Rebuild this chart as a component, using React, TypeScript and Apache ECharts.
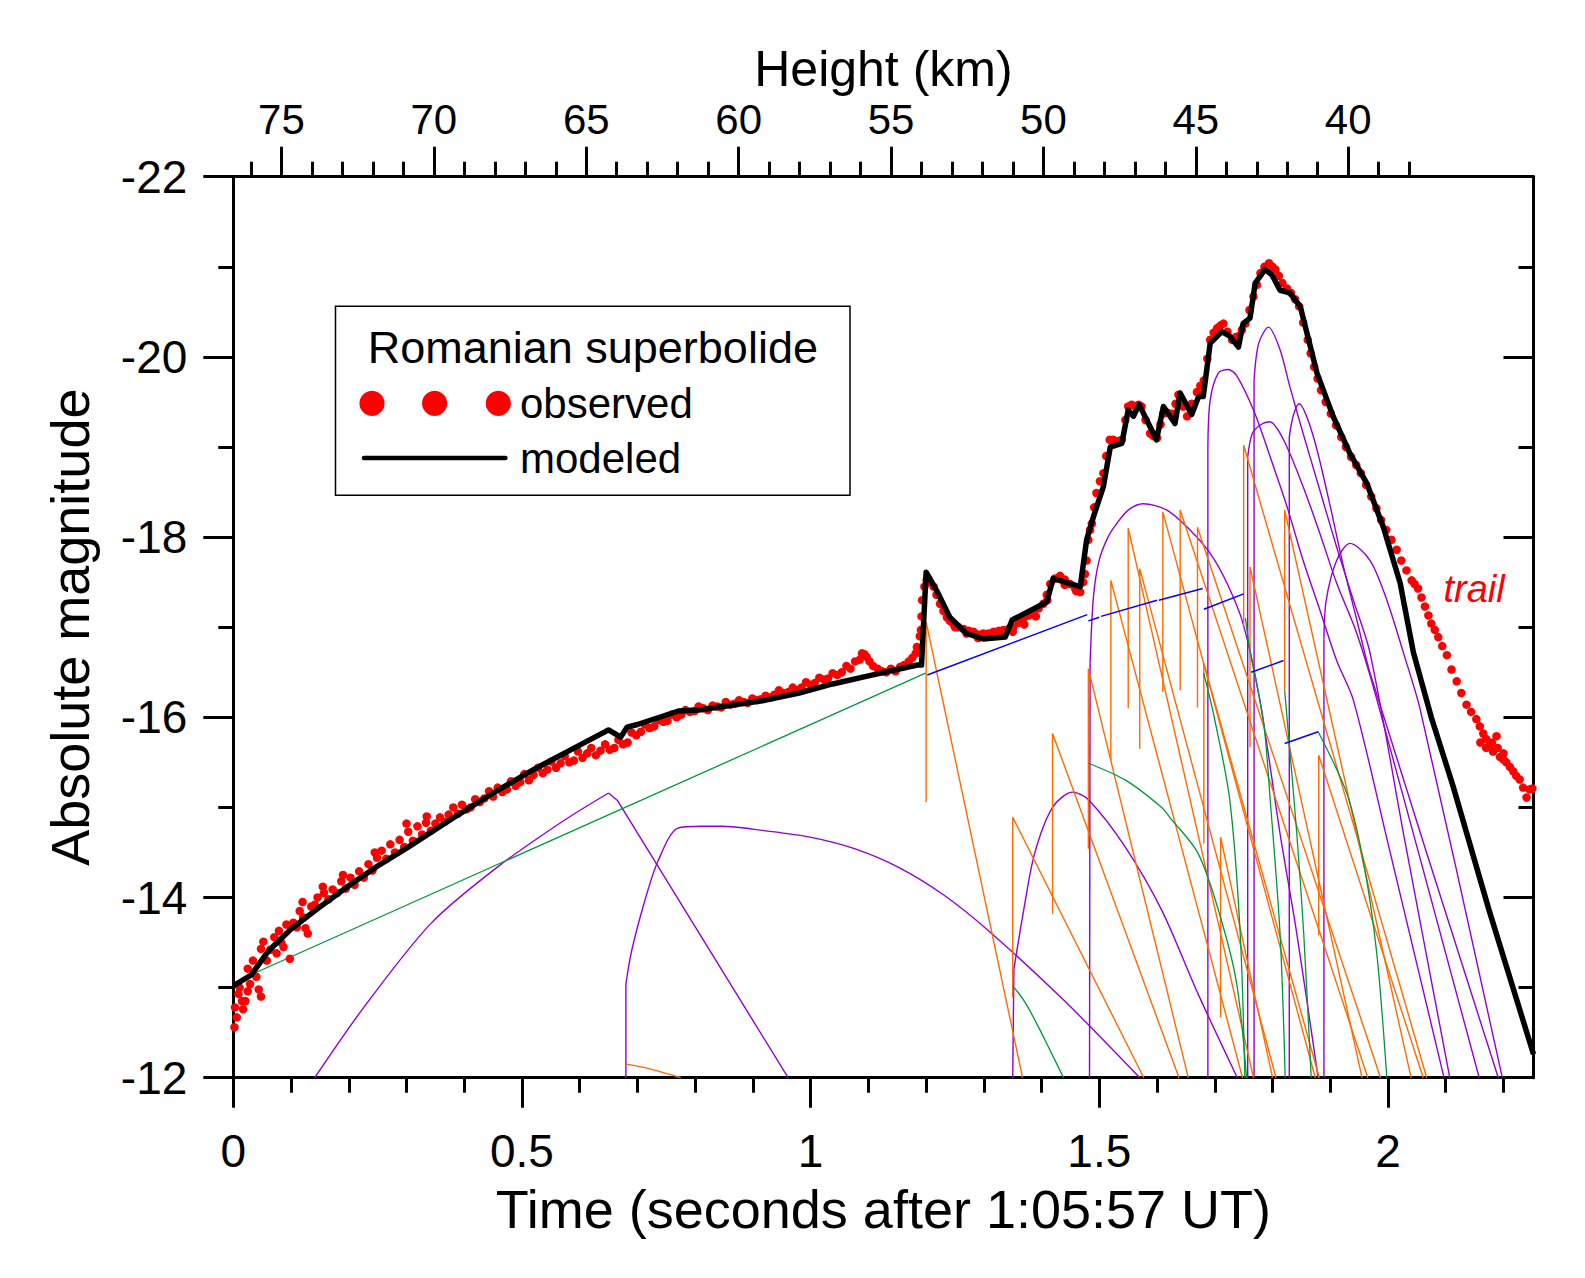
import React, { useEffect, useRef } from "react";
import * as echarts from "echarts";

const FONT = '"Liberation Sans", Arial, Helvetica, sans-serif';

// Bottom axis: time in seconds after 1:05:57 UT
const timeMajorTicks = [0, 0.5, 1, 1.5, 2];
const timeMinorTicks = [0.1, 0.2, 0.3, 0.4, 0.6, 0.7, 0.8, 0.9, 1.1, 1.2, 1.3, 1.4, 1.6, 1.7, 1.8, 1.9, 2.1, 2.2];
// Top axis: height in km
const heightMajorTicks = [75, 70, 65, 60, 55, 50, 45, 40];
const heightMinorTicks = [76, 74, 73, 72, 71, 69, 68, 67, 66, 64, 63, 62, 61, 59, 58, 57, 56, 54, 53, 52, 51, 49, 48, 47, 46, 44, 43, 42, 41, 39, 38];

// Observed light curve [time s, absolute magnitude]
const observed: [number, number][] = [
  [0.002, -12.56], [0.003, -12.78], [0.006, -12.67], [0.009, -12.93], [0.011, -13.0], [0.015, -12.85], [0.017, -12.76],
  [0.021, -12.85], [0.025, -12.96], [0.025, -13.21], [0.029, -13.04], [0.034, -13.3], [0.04, -13.12], [0.044, -12.98],
  [0.048, -12.9], [0.048, -13.43], [0.052, -13.51], [0.058, -13.3], [0.064, -13.42], [0.071, -13.56], [0.075, -13.38],
  [0.079, -13.63], [0.083, -13.5], [0.087, -13.45], [0.092, -13.7], [0.098, -13.32], [0.104, -13.72], [0.11, -13.67],
  [0.115, -13.85], [0.12, -13.95], [0.121, -13.78], [0.125, -13.66], [0.129, -13.6], [0.135, -13.9], [0.141, -13.92],
  [0.146, -14.0], [0.155, -14.12], [0.19, -14.25], [0.245, -14.5], [0.3, -14.82], [0.335, -14.9],
  [0.157, -14.05], [0.172, -14.09], [0.187, -14.18], [0.203, -14.22], [0.218, -14.29], [0.234, -14.37], [0.249, -14.44],
  [0.257, -14.52], [0.272, -14.59], [0.288, -14.64], [0.303, -14.73], [0.319, -14.79], [0.334, -14.83], [0.358, -14.89],
  [0.381, -15.0], [0.396, -15.03], [0.419, -15.09], [0.443, -15.18], [0.458, -15.22], [0.481, -15.29], [0.504, -15.37],
  [0.528, -15.44], [0.551, -15.51], [0.574, -15.57], [0.597, -15.62], [0.62, -15.66], [0.644, -15.7], [0.667, -15.75],
  [0.69, -15.83], [0.713, -15.92], [0.737, -15.97], [0.76, -16.03], [0.783, -16.08], [0.806, -16.12], [0.83, -16.13],
  [0.853, -16.17], [0.876, -16.19], [0.899, -16.21], [0.922, -16.24], [0.945, -16.3], [0.969, -16.33], [0.992, -16.39],
  [1.015, -16.44], [1.038, -16.49], [1.062, -16.57], [1.077, -16.62], [1.089, -16.71], [1.097, -16.67], [1.108, -16.57],
  [1.124, -16.51], [1.139, -16.54], [1.155, -16.56], [1.17, -16.62], [1.182, -16.71],
  [0.165, -13.98], [0.18, -14.05], [0.195, -14.1], [0.21, -14.14], [0.226, -14.22], [0.241, -14.3], [0.265, -14.43],
  [0.28, -14.5], [0.296, -14.56], [0.311, -14.63], [0.327, -14.7], [0.342, -14.74], [0.35, -14.82], [0.366, -14.84],
  [0.373, -14.92], [0.389, -14.93], [0.404, -14.98], [0.411, -15.0], [0.427, -15.06], [0.435, -15.1], [0.45, -15.12],
  [0.466, -15.17], [0.474, -15.2], [0.489, -15.24], [0.497, -15.28], [0.512, -15.3], [0.52, -15.36], [0.536, -15.38],
  [0.544, -15.42], [0.559, -15.44], [0.567, -15.49], [0.582, -15.5], [0.59, -15.52], [0.605, -15.55], [0.613, -15.6],
  [0.628, -15.58], [0.636, -15.63], [0.652, -15.64], [0.66, -15.66], [0.675, -15.7], [0.683, -15.72], [0.698, -15.8],
  [0.706, -15.84], [0.721, -15.88], [0.729, -15.9], [0.745, -15.95], [0.752, -15.96], [0.768, -16.0], [0.776, -16.03],
  [0.791, -16.06], [0.799, -16.07], [0.814, -16.1], [0.822, -16.08], [0.838, -16.12], [0.845, -16.11], [0.861, -16.14],
  [0.868, -16.15], [0.884, -16.17], [0.891, -16.16], [0.907, -16.19], [0.914, -16.2], [0.93, -16.22], [0.937, -16.25],
  [0.953, -16.27], [0.961, -16.28], [0.976, -16.3], [0.984, -16.33], [1.0, -16.36], [1.007, -16.38], [1.023, -16.42],
  [1.03, -16.43], [1.046, -16.47], [1.054, -16.5], [1.069, -16.54], [1.085, -16.64], [1.093, -16.7], [1.102, -16.62],
  [1.116, -16.54], [1.131, -16.5], [1.147, -16.51], [1.162, -16.58], [1.176, -16.66],
  [1.184, -16.78], [1.189, -16.9], [1.191, -16.97], [1.192, -17.12], [1.193, -17.3], [1.197, -17.45], [1.201, -17.52],
  [1.206, -17.5], [1.213, -17.45], [1.218, -17.36], [1.224, -17.26], [1.23, -17.18], [1.236, -17.11], [1.241, -17.07],
  [1.247, -17.04], [1.256, -17.0], [1.265, -16.98], [1.274, -16.96], [1.282, -16.95], [1.29, -16.92], [1.299, -16.93],
  [1.308, -16.93], [1.317, -16.95], [1.326, -16.96], [1.334, -16.97], [1.343, -16.98], [1.351, -17.0], [1.36, -17.05],
  [1.369, -17.1], [1.378, -17.13], [1.386, -17.17], [1.395, -17.21], [1.403, -17.26], [1.409, -17.36], [1.415, -17.48],
  [1.423, -17.54], [1.432, -17.57], [1.44, -17.53], [1.449, -17.48], [1.458, -17.43], [1.467, -17.39], [1.472, -17.5],
  [1.25, -17.0], [1.27, -16.93], [1.29, -16.88], [1.31, -16.9], [1.33, -16.92], [1.35, -16.95], [1.37, -17.03],
  [1.39, -17.12], [1.41, -17.3], [1.44, -17.47], [1.46, -17.4],
  [1.475, -17.59], [1.478, -17.74], [1.481, -17.97], [1.484, -18.08], [1.487, -18.15], [1.491, -18.33], [1.495, -18.49],
  [1.501, -18.62], [1.507, -18.71], [1.512, -18.9], [1.518, -19.08], [1.524, -19.08], [1.53, -19.06], [1.535, -19.07],
  [1.539, -19.08], [1.545, -19.3], [1.55, -19.45], [1.556, -19.47], [1.562, -19.45], [1.568, -19.47], [1.573, -19.45],
  [1.58, -19.3], [1.588, -19.15], [1.594, -19.12], [1.6, -19.1], [1.606, -19.25], [1.611, -19.37], [1.618, -19.38],
  [1.626, -19.37], [1.632, -19.48], [1.637, -19.58], [1.645, -19.45], [1.652, -19.34], [1.66, -19.48], [1.669, -19.61],
  [1.675, -19.68], [1.681, -19.74], [1.687, -19.98], [1.692, -20.19], [1.698, -20.27], [1.704, -20.32], [1.71, -20.35],
  [1.715, -20.37], [1.722, -20.28], [1.73, -20.19], [1.736, -20.22], [1.741, -20.23], [1.747, -20.3], [1.753, -20.37],
  [1.76, -20.52], [1.767, -20.67], [1.773, -20.8], [1.779, -20.93], [1.786, -21.0], [1.794, -21.04], [1.8, -21.0],
  [1.805, -20.97], [1.811, -20.9], [1.817, -20.82], [1.825, -20.76], [1.832, -20.71], [1.839, -20.64], [1.846, -20.56],
  [1.853, -20.38], [1.861, -20.19], [1.866, -20.04], [1.872, -19.89], [1.878, -19.76], [1.884, -19.63], [1.892, -19.5],
  [1.901, -19.37], [1.91, -19.24], [1.919, -19.11], [1.927, -19.0], [1.936, -18.89], [1.945, -18.8], [1.953, -18.71],
  [1.962, -18.58], [1.971, -18.45], [1.98, -18.32], [1.988, -18.19], [1.997, -18.08], [2.006, -17.97], [2.015, -17.86],
  [2.023, -17.74], [2.032, -17.63], [2.041, -17.52], [2.046, -17.48], [2.052, -17.43], [2.058, -17.33], [2.064, -17.23],
  [2.07, -17.13], [2.075, -17.04], [2.081, -16.97], [2.087, -16.89], [2.094, -16.79], [2.102, -16.69], [2.11, -16.53],
  [2.119, -16.4], [2.127, -16.27], [2.136, -16.14], [2.144, -16.06], [2.153, -15.98], [2.159, -15.9], [2.165, -15.82],
  [2.17, -15.76], [2.176, -15.69], [2.182, -15.62], [2.188, -15.79], [2.194, -15.56], [2.2, -15.53], [2.205, -15.5],
  [2.211, -15.45], [2.217, -15.4], [2.222, -15.35], [2.228, -15.31], [2.234, -15.22], [2.24, -15.11], [2.245, -15.2],
  [2.25, -15.21], [2.16, -15.72], [2.17, -15.66], [2.18, -15.72], [2.19, -15.66], [2.2, -15.6],
];

// Modeled light curve
const modeled: [number, number][] = [
  [0, -13.02], [0.031, -13.14], [0.06, -13.4], [0.1, -13.65], [0.149, -13.89], [0.2, -14.13], [0.25, -14.35],
  [0.303, -14.56], [0.38, -14.88], [0.458, -15.19], [0.52, -15.42], [0.582, -15.63], [0.65, -15.86], [0.671, -15.78],
  [0.682, -15.89], [0.7, -15.92], [0.771, -16.07], [0.806, -16.08], [0.86, -16.13], [0.922, -16.19], [0.98, -16.27],
  [1.038, -16.37], [1.1, -16.46], [1.185, -16.58], [1.192, -16.58], [1.2, -17.61], [1.218, -17.41], [1.241, -17.11],
  [1.27, -16.93], [1.299, -16.87], [1.337, -16.89], [1.349, -17.08], [1.409, -17.28], [1.42, -17.54], [1.467, -17.45],
  [1.478, -17.97], [1.49, -18.23], [1.507, -18.56], [1.519, -19.0], [1.539, -19.04], [1.55, -19.41], [1.559, -19.34],
  [1.569, -19.47], [1.599, -19.08], [1.611, -19.45], [1.631, -19.26], [1.64, -19.6], [1.66, -19.36], [1.672, -19.56],
  [1.68, -19.56], [1.692, -20.15], [1.712, -20.28], [1.726, -20.23], [1.741, -20.11], [1.749, -20.37], [1.761, -20.43],
  [1.77, -20.82], [1.787, -20.97], [1.799, -20.91], [1.813, -20.74], [1.83, -20.71], [1.848, -20.56], [1.877, -19.82],
  [1.905, -19.34], [1.934, -18.93], [1.963, -18.6], [1.992, -18.11], [2.021, -17.49], [2.044, -16.72], [2.075, -16.0],
  [2.112, -15.25], [2.175, -13.86], [2.252, -12.26],
];

// Fragment light curves (purple): a vertical onset leg where present, then the curved body
const purpleLegs: [number, number][][] = [
  [[0.68, -12], [0.68, -13.04]],
  [[1.35, -12], [1.352, -13.2]],
  [[1.483, -12], [1.484, -16.6]],
  [[1.688, -12], [1.688, -19.0]],
  [[1.768, -12], [1.768, -19.74]],
  [[1.757, -12], [1.757, -18.89]],
  [[1.829, -12], [1.829, -19.11]],
  [[1.889, -12], [1.889, -16.86]],
];
const purpleCurves: [number, number][][] = [
  [[0.141, -12], [0.226, -12.78], [0.342, -13.71], [0.458, -14.34], [0.574, -14.86], [0.65, -15.16]],
  [[0.68, -13.04], [0.69, -13.41], [0.713, -13.97], [0.736, -14.41], [0.77, -14.77], [0.81, -14.79], [0.845, -14.79],
    [0.922, -14.74], [0.999, -14.67], [1.077, -14.54], [1.154, -14.33], [1.23, -14.03], [1.31, -13.62], [1.44, -12.85], [1.57, -12]],
  [[1.352, -13.2], [1.369, -13.86], [1.388, -14.49], [1.419, -15.0], [1.454, -15.17], [1.482, -15.08], [1.545, -14.56],
    [1.608, -13.86], [1.671, -12.93], [1.739, -12]],
  [[1.484, -16.6], [1.49, -17.35], [1.5, -17.75], [1.515, -18.0], [1.53, -18.15], [1.55, -18.3], [1.576, -18.37],
    [1.617, -18.3], [1.657, -18.08], [1.692, -17.82], [1.721, -17.49], [1.749, -17.04], [1.778, -16.19], [1.813, -14.71],
    [1.842, -13.6], [1.879, -12]],
  [[1.688, -19.0], [1.692, -19.52], [1.706, -19.82], [1.723, -19.86], [1.737, -19.8], [1.767, -19.41], [1.796, -18.89],
    [1.825, -18.34], [1.853, -17.74], [1.882, -17.19], [1.911, -16.63], [1.94, -16.19], [2.0, -14.6], [2.097, -12]],
  [[1.768, -19.74], [1.776, -20.15], [1.793, -20.33], [1.813, -20.08], [1.83, -19.67], [1.853, -19.15], [1.882, -18.52],
    [1.911, -17.89], [1.94, -17.3], [1.969, -16.71], [2.03, -14.6], [2.107, -12]],
  [[1.757, -18.89], [1.765, -19.15], [1.78, -19.25], [1.795, -19.28], [1.819, -19.08], [1.853, -18.56], [1.882, -18.04],
    [1.911, -17.49], [1.946, -16.93], [1.981, -16.19], [2.158, -12]],
  [[1.829, -19.11], [1.836, -19.35], [1.846, -19.48], [1.859, -19.34], [1.877, -18.97], [1.9, -18.34], [1.923, -17.67],
    [1.946, -17.08], [1.969, -16.49], [2.191, -12]],
  [[1.889, -16.86], [1.893, -17.3], [1.911, -17.74], [1.934, -17.93], [1.969, -17.74], [1.998, -17.3], [2.027, -16.71],
    [2.056, -16.08], [2.198, -12]],
];
// Straight decline of the first purple fragment after its sharp maximum
const purpleDeclines: [number, number][][] = [
  [[0.65, -15.16], [0.665, -15.08], [0.961, -12]],
];

// Fragment light curves (orange)
const orangeBursts: [number, number][][] = [
  [[1.2, -15.06], [1.2, -17.06], [1.367, -12]],
  [[1.35, -12.89], [1.35, -14.89], [1.577, -12]],
  [[1.419, -13.82], [1.419, -15.82], [1.638, -12]],
  [[1.481, -14.54], [1.481, -16.54], [1.654, -12]],
  [[1.52, -15.52], [1.52, -17.52], [1.748, -12]],
  [[1.55, -16.1], [1.55, -18.1], [1.767, -12]],
  [[1.57, -15.65], [1.57, -17.65], [1.806, -12]],
  [[1.61, -16.28], [1.61, -18.28], [1.874, -12]],
  [[1.64, -16.3], [1.64, -18.3], [1.965, -12]],
  [[1.67, -16.11], [1.67, -18.11], [1.987, -12]],
  [[1.681, -14.6], [1.681, -16.6], [1.881, -12]],
  [[1.71, -12.67], [1.71, -14.67], [1.8, -12]],
  [[1.75, -17.02], [1.75, -19.02], [2.067, -12]],
  [[1.761, -15.67], [1.761, -17.67], [1.955, -12]],
  [[1.821, -16.3], [1.821, -18.3], [2.04, -12]],
  [[1.88, -13.58], [1.88, -15.58], [2.061, -12]],
];
const orangeArcs: [number, number][][] = [
  [[0.68, -12.15], [0.72, -12.1], [0.775, -12.0]],
];

// Fragment light curves (green)
const greenLines: [number, number][][] = [
  [[0.033, -13.15], [1.199, -16.49]],
];
const greenCurves: [number, number][][] = [
  [[1.35, -13.02], [1.37, -12.85], [1.39, -12.62], [1.415, -12.3], [1.438, -12]],
  [[1.481, -15.49], [1.546, -15.3], [1.608, -15.0], [1.622, -14.89], [1.671, -14.49], [1.709, -13.8], [1.738, -13.04], [1.755, -12]],
  [[1.681, -16.49], [1.7, -15.97], [1.726, -15.08], [1.744, -13.6], [1.752, -12]],
  [[1.753, -17.1], [1.761, -16.74], [1.784, -15.97], [1.796, -15.08], [1.813, -13.6], [1.822, -12]],
  [[1.821, -16.3], [1.842, -14.71], [1.854, -13.6], [1.867, -12]],
  [[1.879, -15.84], [1.929, -15.15], [1.957, -14.41], [1.98, -13.41], [1.998, -12]],
];

// Fragment light curves (blue)
const blueSegments: [number, number][][] = [
  [[0, -13.02], [0.031, -13.14]],
  [[1.202, -16.47], [1.479, -17.14]],
  [[1.481, -17.07], [1.5, -17.11]],
  [[1.503, -17.12], [1.6, -17.3]],
  [[1.603, -17.3], [1.679, -17.43]],
  [[1.681, -17.2], [1.75, -17.37]],
  [[1.763, -16.5], [1.819, -16.63]],
  [[1.821, -15.71], [1.879, -15.84]],
];

const PURPLE = "#9400D3";
const ORANGE = "#FF6A00";
const GREEN = "#00973A";
const BLUE = "#0000FF";
const RED = "#FF0000";

function fragmentSeries(groups: [number, number][][], color: string, width: number, smooth: number | boolean = false) {
  return groups.map((pts) => ({
    type: "line" as const,
    data: pts,
    symbol: "none",
    showSymbol: false,
    silent: true,
    clip: true,
    smooth,
    z: 2,
    lineStyle: { color, width },
  }));
}

const black = "#000";
const axisLineStyle = { color: black, width: 3 };

export default function App() {
  const ref = useRef<HTMLDivElement>(null);

  useEffect(() => {
    document.body.style.margin = "0";
    if (!ref.current) return;
    const chart = echarts.init(ref.current, null, { renderer: "svg" });

    const option: any = {
      animation: false,
      backgroundColor: "#fff",
      textStyle: { fontFamily: FONT },
      grid: { left: 233.3, right: 51.5, top: 176.7, bottom: 200.3, containLabel: false },
      xAxis: [
        {
          type: "value",
          position: "bottom",
          min: 0,
          max: 2.252,
          axisLine: { show: true, onZero: false, lineStyle: axisLineStyle },
          axisTick: { show: true, inside: false, length: 30, customValues: timeMajorTicks, lineStyle: axisLineStyle },
          axisLabel: { show: true, customValues: timeMajorTicks, fontSize: 46, color: black, margin: 50, fontFamily: FONT },
          splitLine: { show: false },
          name: "Time (seconds after 1:05:57 UT)",
          nameLocation: "middle",
          nameGap: 104,
          nameTextStyle: { fontSize: 54, color: black, fontFamily: FONT },
        },
        {
          type: "value",
          position: "bottom",
          min: 0,
          max: 2.252,
          axisLine: { show: false },
          axisTick: { show: true, inside: false, length: 15, customValues: timeMinorTicks, lineStyle: axisLineStyle },
          axisLabel: { show: false },
          splitLine: { show: false },
        },
        {
          type: "value",
          position: "top",
          min: 33.92,
          max: 76.58,
          inverse: true,
          axisLine: { show: true, onZero: false, lineStyle: axisLineStyle },
          axisTick: { show: true, inside: false, length: 30, customValues: heightMajorTicks, lineStyle: axisLineStyle },
          axisLabel: { show: true, customValues: heightMajorTicks, fontSize: 42, color: black, margin: 36, fontFamily: FONT },
          splitLine: { show: false },
          name: "Height (km)",
          nameLocation: "middle",
          nameGap: 82,
          nameTextStyle: { fontSize: 50, color: black, fontFamily: FONT },
        },
        {
          type: "value",
          position: "top",
          min: 33.92,
          max: 76.58,
          inverse: true,
          axisLine: { show: false },
          axisTick: { show: true, inside: false, length: 15, customValues: heightMinorTicks, lineStyle: axisLineStyle },
          axisLabel: { show: false },
          splitLine: { show: false },
        },
      ],
      yAxis: [
        {
          type: "value",
          position: "left",
          min: -22,
          max: -12,
          interval: 2,
          inverse: true,
          axisLine: { show: true, onZero: false, lineStyle: axisLineStyle },
          axisTick: { show: true, inside: false, length: 30, lineStyle: axisLineStyle },
          minorTick: { show: true, splitNumber: 2, length: 15, lineStyle: axisLineStyle },
          axisLabel: { fontSize: 46, color: black, margin: 46, fontFamily: FONT },
          splitLine: { show: false },
          minorSplitLine: { show: false },
          name: "Absolute magnitude",
          nameLocation: "middle",
          nameGap: 136,
          nameTextStyle: { fontSize: 54, color: black, fontFamily: FONT },
        },
        {
          type: "value",
          position: "right",
          min: -22,
          max: -12,
          interval: 2,
          inverse: true,
          axisLine: { show: true, onZero: false, lineStyle: axisLineStyle },
          axisTick: { show: true, inside: true, length: 30, lineStyle: axisLineStyle },
          minorTick: { show: true, splitNumber: 2, length: 15, lineStyle: axisLineStyle },
          axisLabel: { show: false },
          splitLine: { show: false },
          minorSplitLine: { show: false },
        },
      ],
      series: [
        ...fragmentSeries(purpleLegs, PURPLE, 1.4),
        ...fragmentSeries(purpleCurves, PURPLE, 1.4, 0.3),
        ...fragmentSeries(purpleDeclines, PURPLE, 1.4),
        ...fragmentSeries(orangeBursts, ORANGE, 1.4),
        ...fragmentSeries(orangeArcs, ORANGE, 1.4, 0.3),
        ...fragmentSeries(greenLines, GREEN, 1.3),
        ...fragmentSeries(greenCurves, GREEN, 1.3, 0.3),
        ...fragmentSeries(blueSegments, BLUE, 1.5),
        {
          name: "observed",
          type: "scatter",
          data: observed,
          symbol: "circle",
          symbolSize: 8.5,
          itemStyle: { color: RED, opacity: 1 },
          silent: true,
          z: 3,
        },
        {
          name: "modeled",
          type: "line",
          data: modeled,
          symbol: "none",
          showSymbol: false,
          silent: true,
          z: 4,
          lineStyle: { color: black, width: 5.5, join: "round" },
        },
      ],
      graphic: [
        {
          type: "rect",
          shape: { x: 335.5, y: 306.3, width: 514.5, height: 189 },
          style: { fill: "#fff", stroke: black, lineWidth: 1.5 },
          z: 10,
        },
        {
          type: "text",
          x: 592.8,
          y: 347,
          z: 11,
          style: { text: "Romanian superbolide", fontSize: 45, fontFamily: FONT, fill: black, align: "center", verticalAlign: "middle" },
        },
        { type: "circle", shape: { cx: 372, cy: 403.3, r: 12.6 }, style: { fill: RED }, z: 11 },
        { type: "circle", shape: { cx: 434.6, cy: 403.3, r: 12.6 }, style: { fill: RED }, z: 11 },
        { type: "circle", shape: { cx: 498.3, cy: 403.3, r: 12.6 }, style: { fill: RED }, z: 11 },
        {
          type: "text",
          x: 520,
          y: 403,
          z: 11,
          style: { text: "observed", fontSize: 42, fontFamily: FONT, fill: black, align: "left", verticalAlign: "middle" },
        },
        {
          type: "line",
          shape: { x1: 364, y1: 458, x2: 505.4, y2: 458 },
          style: { stroke: black, lineWidth: 4.5, lineCap: "round" },
          z: 11,
        },
        {
          type: "text",
          x: 520,
          y: 458,
          z: 11,
          style: { text: "modeled", fontSize: 42, fontFamily: FONT, fill: black, align: "left", verticalAlign: "middle" },
        },
        {
          type: "text",
          x: 1443.5,
          y: 589,
          z: 11,
          style: { text: "trail", fontSize: 38, fontStyle: "italic", fontFamily: FONT, fill: RED, align: "left", verticalAlign: "middle" },
        },
      ],
    };

    chart.setOption(option);
    return () => chart.dispose();
  }, []);

  return <div ref={ref} style={{ width: 1585, height: 1278 }} />;
}
